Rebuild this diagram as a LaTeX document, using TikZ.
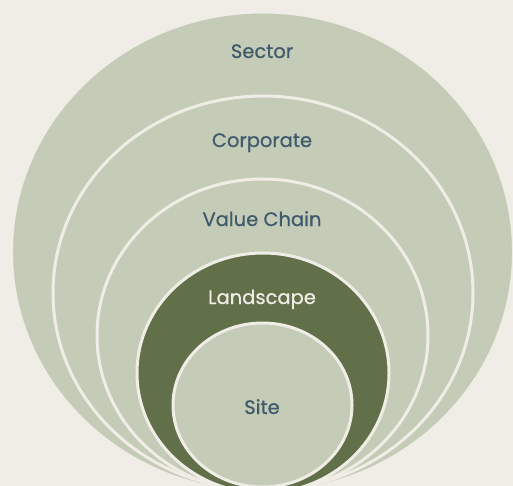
\documentclass[tikz,border=0pt]{standalone}
\usepackage{fontspec}
\setmainfont{Poppins}
\newfontfamily\lvlfont{Poppins}[FakeBold=0.6]
\usetikzlibrary{shapes}
\definecolor{paper}{HTML}{F0EDE7}
\definecolor{sage}{HTML}{C4CBB7}
\definecolor{moss}{HTML}{617048}
\definecolor{slate}{HTML}{3E5A6C}
\tikzstyle{ring} = [ellipse, draw=paper, line width=3pt, fill=sage, inner sep=0pt]
\tikzstyle{lvl} = [anchor=base, text=slate, font=\lvlfont\fontsize{19.5}{23}\selectfont]

\begin{document}
\begin{tikzpicture}[x=1pt,y=-1pt]
\useasboundingbox (0,0) rectangle (513,486);
\clip (0,0) rectangle (513,486);
\fill [paper] (0,0) rectangle (513,486);
% nested levels, outer to inner
\node [ring, minimum width=502pt, minimum height=480pt] (sector) at (262.5,252) {};
\node [ring, minimum width=420pt, minimum height=394pt] (corporate) at (263,293) {};
\node [ring, minimum width=331pt, minimum height=313pt] (value-chain) at (262.5,335.5) {};
\node [ring, fill=moss, minimum width=252pt, minimum height=240pt] (landscape) at (263,373) {};
\node [ring, minimum width=179pt, minimum height=164pt] (site) at (262.5,405) {};
% level names
\node [lvl] (sector-name) at (262,58) {Sector};
\node [lvl] (corporate-name) at (262,147) {Corporate};
\node [lvl] (value-chain-name) at (262,226) {Value Chain};
\node [lvl, text=paper] (landscape-name) at (262,304) {Landscape};
\node [lvl] (site-name) at (262,414) {Site};
\end{tikzpicture}
\end{document}
